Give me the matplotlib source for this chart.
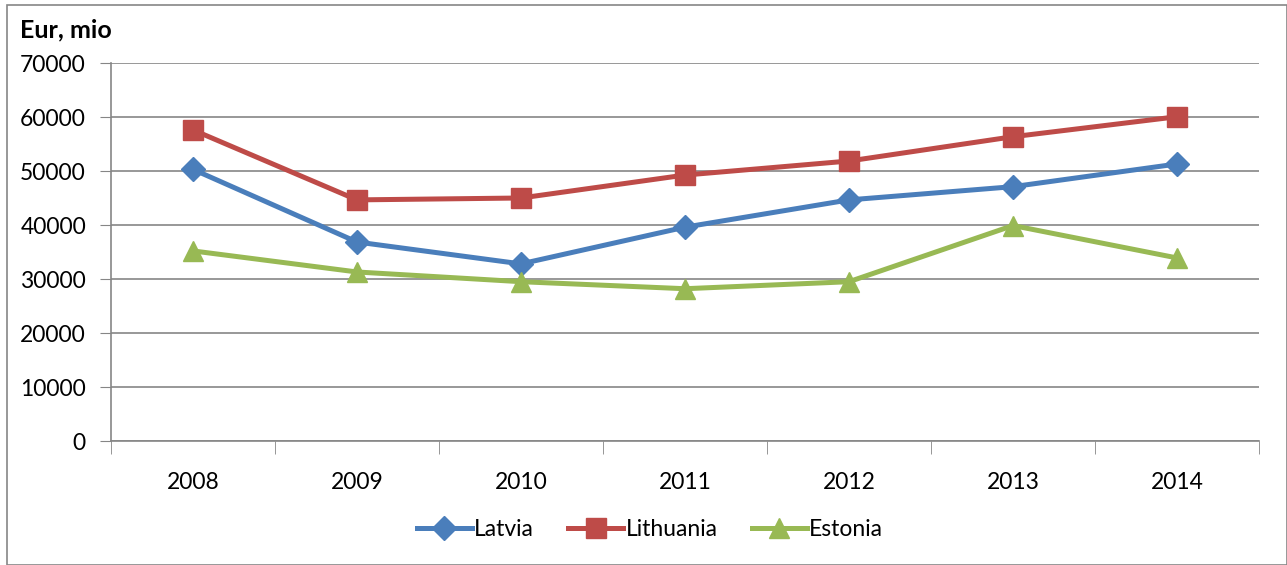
import matplotlib
matplotlib.use("Agg")
import matplotlib.pyplot as plt
from matplotlib.patches import Rectangle

years = ["2008", "2009", "2010", "2011", "2012", "2013", "2014"]
latvia = [50300, 36850, 32800, 39600, 44650, 47100, 51300]
lithuania = [57600, 44650, 45000, 49250, 51850, 56350, 60050]
estonia = [35200, 31300, 29500, 28200, 29500, 39900, 33900]
y_ticks = [0, 10000, 20000, 30000, 40000, 50000, 60000, 70000]

plt.rcParams["font.family"] = ["Lato", "DejaVu Sans"]
fs = 16.5

W, H = 1287, 565
fig = plt.figure(figsize=(W / 100, H / 100), dpi=100)
ax = fig.add_axes([111 / W, 1 - 441 / H, (1259 - 111) / W, (441 - 63) / H])

# outer chart border
fig.patches.append(Rectangle((7 / W, 0), 1 - 7 / W, 1 - 5 / H, transform=fig.transFigure,
                             fill=False, edgecolor="#868686", linewidth=1.2))

x = list(range(len(years)))
ax.plot(x, latvia, color="#4A7EBB", lw=3.6, marker="D", ms=12, label="Latvia")
ax.plot(x, lithuania, color="#BE4B48", lw=3.6, marker="s", ms=14, label="Lithuania")
ax.plot(x, estonia, color="#98B954", lw=3.6, marker="^", ms=14, label="Estonia")

ax.set_xlim(-0.5, len(years) - 0.5)
ax.set_ylim(0, 70000)
ax.set_yticks(y_ticks)
ax.set_yticklabels([str(v) for v in y_ticks], fontsize=fs)
ax.set_xticks(x)
ax.set_xticklabels(years, fontsize=fs)
ax.set_xticks([i - 0.5 for i in range(len(years) + 1)], minor=True)
ax.tick_params(axis="x", which="major", length=0, pad=22)
ax.tick_params(axis="x", which="minor", length=9, color="#868686", direction="out")
ax.tick_params(axis="y", length=8, color="#868686", pad=10)
ax.grid(axis="y", color="#868686", lw=1.2)
ax.set_axisbelow(True)
for s in ["top", "right"]:
    ax.spines[s].set_visible(False)
for s in ["left", "bottom"]:
    ax.spines[s].set_color("#868686")
    ax.spines[s].set_linewidth(1.2)

fig.text(20 / W, 1 - 30 / H, "Eur, mio", fontsize=18, fontweight="bold", va="center")

fig.legend(loc="center", bbox_to_anchor=(650 / W, 1 - 530 / H), ncol=3, frameon=False,
           fontsize=fs, handlelength=2.4, handletextpad=0.1, columnspacing=1.5)

fig.savefig("out.png", dpi=100)
